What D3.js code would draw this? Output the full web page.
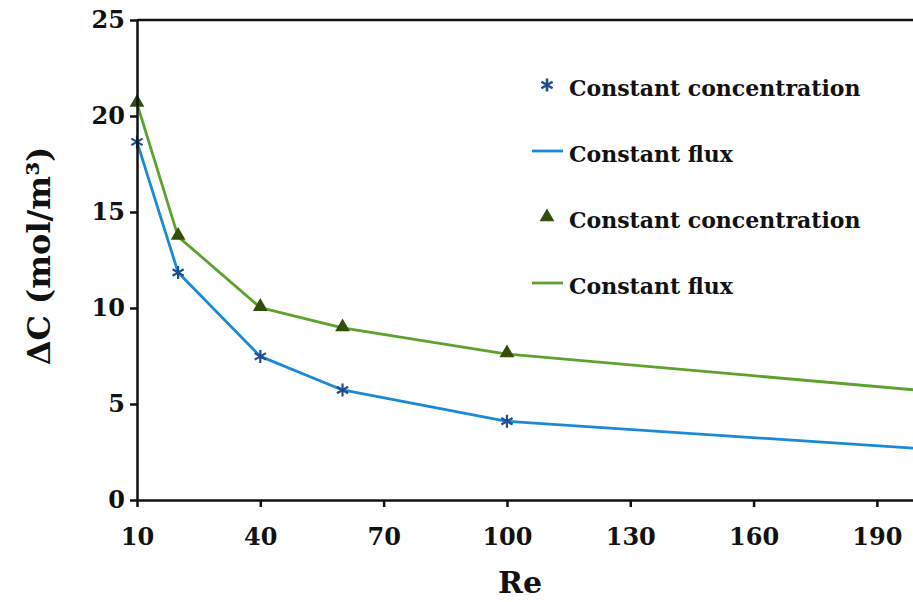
<!DOCTYPE html>
<html><head><meta charset="utf-8">
<script src="https://cdn.jsdelivr.net/npm/d3@7"></script>
<style>
body{margin:0;background:#fff;}
svg{display:block;}
text{font-family:"DejaVu Serif",serif;font-weight:bold;fill:#111;}
</style></head>
<body>
<svg id="chart" width="913" height="602"></svg>
<script>
const reValues = [10, 20, 40, 60, 100, 200];
const fluxBlue = [18.65, 11.85, 7.48, 5.73, 4.1, 2.68];
const concBlue = [18.65, 11.85, 7.48, 5.73, 4.1];
const fluxGreen = [20.65, 13.72, 10.02, 8.96, 7.6, 5.72];
const concGreen = [20.65, 13.72, 10.02, 8.96, 7.6];
const xTicks = [10, 40, 70, 100, 130, 160, 190];
const yTicks = [0, 5, 10, 15, 20, 25];
const legendLabels = ["Constant concentration", "Constant flux", "Constant concentration", "Constant flux"];

const svg = d3.select("#chart");
const x = d3.scaleLinear().domain([10, 200]).range([137, 918]);
const y = d3.scaleLinear().domain([0, 25]).range([500, 20]);

const blueLine = "#1b8ad6", blueMark = "#1d4f8f";
const greenLine = "#5ea22e", greenMark = "#354d0c";

// frame top
svg.append("line").attr("x1", 137).attr("x2", 913).attr("y1", 20).attr("y2", 20)
  .attr("stroke", "#111").attr("stroke-width", 2.5);

const line = d3.line().x((d, i) => x(reValues[i])).y(d => y(d)).curve(d3.curveLinear);

svg.append("path").datum(fluxGreen).attr("d", line).attr("fill", "none")
  .attr("stroke", greenLine).attr("stroke-width", 2.8).attr("stroke-linejoin", "round");
svg.append("path").datum(fluxBlue).attr("d", line).attr("fill", "none")
  .attr("stroke", blueLine).attr("stroke-width", 2.8).attr("stroke-linejoin", "round");

const starPath = "M0,-6.5V6.5M-5.6,-3.25L5.6,3.25M-5.6,3.25L5.6,-3.25";
svg.selectAll(".star").data(concBlue).enter().append("path")
  .attr("d", starPath).attr("transform", (d, i) => `translate(${x(reValues[i])},${y(d)})`)
  .attr("stroke", blueMark).attr("stroke-width", 2.2).attr("fill", "none");

const tri = d3.symbol().type(d3.symbolTriangle).size(95);
svg.selectAll(".tri").data(concGreen).enter().append("path")
  .attr("d", tri).attr("transform", (d, i) => `translate(${x(reValues[i])},${y(d) - 1})`)
  .attr("fill", greenMark);

// axes
const xAxis = svg.append("g").attr("transform", "translate(0,500)")
  .call(d3.axisBottom(x).tickValues(xTicks).tickSize(7).tickSizeOuter(0).tickPadding(21));
xAxis.select(".domain").attr("stroke", "#111").attr("stroke-width", 2.5);
xAxis.selectAll(".tick line").attr("stroke", "#111").attr("stroke-width", 2.5);
xAxis.selectAll("text").attr("font-size", 24).attr("font-family", "DejaVu Serif").attr("font-weight", "bold").attr("fill", "#111");

const yAxis = svg.append("g").attr("transform", "translate(137,0)")
  .call(d3.axisLeft(y).tickValues(yTicks).tickSize(7).tickSizeOuter(0).tickPadding(5));
yAxis.select(".domain").attr("stroke", "#111").attr("stroke-width", 2.5);
yAxis.selectAll(".tick line").attr("stroke", "#111").attr("stroke-width", 2.5);
yAxis.selectAll("text").attr("font-size", 24).attr("font-family", "DejaVu Serif").attr("font-weight", "bold").attr("fill", "#111");

svg.append("text").attr("x", 520).attr("y", 593).attr("text-anchor", "middle")
  .attr("font-size", 30).text("Re");

svg.append("text").attr("transform", "translate(50,256) rotate(-90)").attr("text-anchor", "middle")
  .attr("font-size", 32).text("ΔC (mol/m³)");

// legend
const lg = svg.append("g");
const rowY = [85, 151, 217, 283];
legendLabels.forEach((t, i) => {
  const cy = rowY[i];
  if (i === 0) lg.append("path").attr("d", starPath).attr("transform", `translate(547,${cy})`)
    .attr("stroke", blueMark).attr("stroke-width", 2.6).attr("fill", "none");
  if (i === 1) lg.append("line").attr("x1", 532).attr("x2", 563).attr("y1", cy).attr("y2", cy)
    .attr("stroke", blueLine).attr("stroke-width", 2.8);
  if (i === 2) lg.append("path").attr("d", tri).attr("transform", `translate(547,${cy})`).attr("fill", greenMark);
  if (i === 3) lg.append("line").attr("x1", 532).attr("x2", 563).attr("y1", cy).attr("y2", cy)
    .attr("stroke", greenLine).attr("stroke-width", 2.8);
  lg.append("text").attr("x", 569).attr("y", cy + 11).attr("font-size", 22).text(t);
});
</script>
</body></html>
